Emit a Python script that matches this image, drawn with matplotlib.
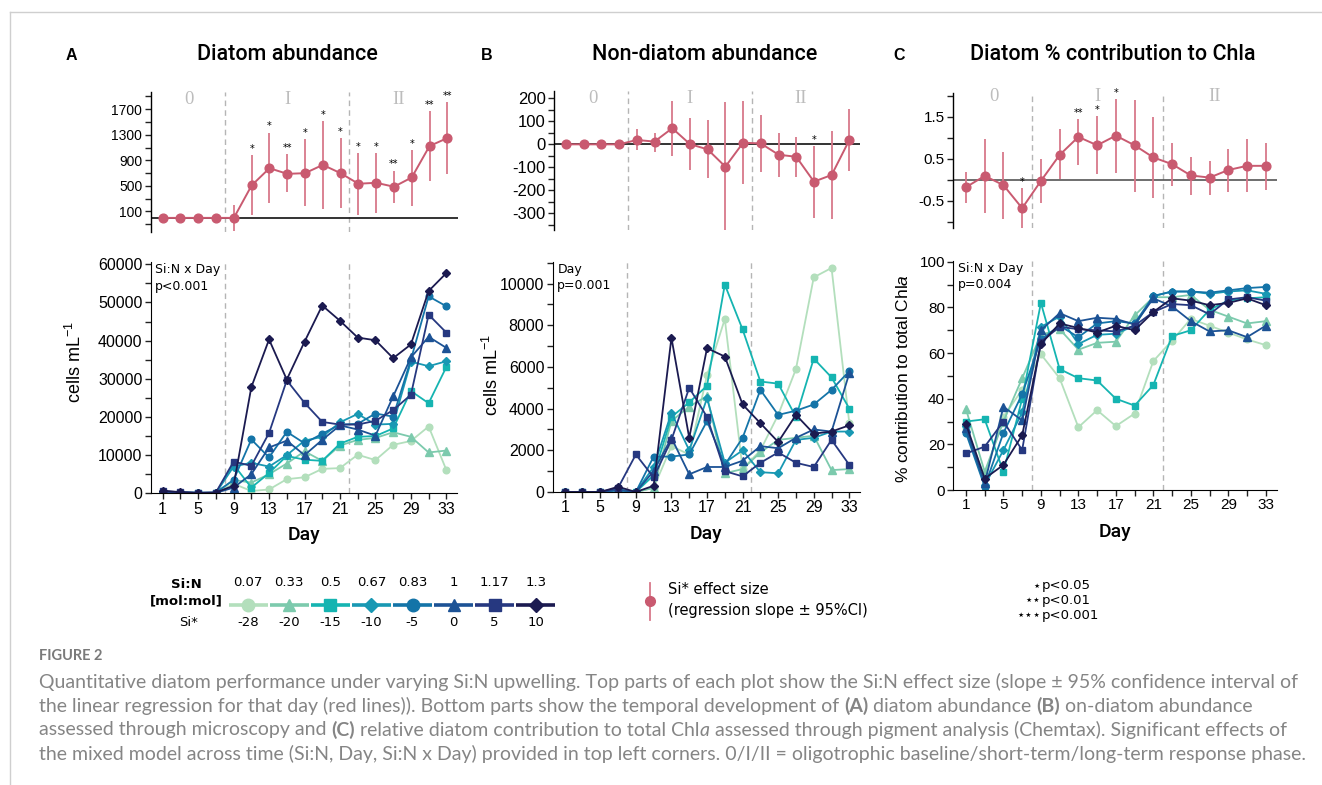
import matplotlib
matplotlib.use('Agg')
import matplotlib.pyplot as plt
import matplotlib.transforms as mtransforms
from matplotlib.ticker import FixedLocator, NullFormatter, MultipleLocator

plt.rcParams['font.family'] = ['Liberation Sans', 'DejaVu Sans']
plt.rcParams['mathtext.fontset'] = 'custom'
plt.rcParams['mathtext.rm'] = 'Liberation Sans'
plt.rcParams['mathtext.it'] = 'Liberation Sans:italic'
plt.rcParams['axes.unicode_minus'] = False

# ---------------- data ----------------
days = [1, 3, 5, 7, 9, 11, 13, 15, 17, 19, 21, 23, 25, 27, 29, 31, 33]
phase_breaks = [8, 22]
phase_labels = ['0', 'I', 'II']
phase_label_days = [4, 15, 27.5]

sin_labels = ['0.07', '0.33', '0.5', '0.67', '0.83', '1', '1.17', '1.3']
sistar_labels = ['-28', '-20', '-15', '-10', '-5', '0', '5', '10']

# effect sizes (slope) and 95% CI, panel A
effA = [0, 0, 0, 0, 0, 508, 777, 689, 699, 829, 699, 534, 549, 487, 632, 1124, 1248]
hiA = [0, 0, 0, 0, 207, 984, 1331, 995, 1228, 1513, 1248, 1010, 1015, 736, 1062, 1668, 1813]
loA = [0, 0, 0, 0, -207, 41, 233, 399, 192, 145, 150, 52, 83, 233, 192, 570, 679]
sigA = ['', '', '', '', '', '*', '*', '**', '*', '*', '*', '*', '*', '**', '*', '**', '**']

# panel B
effB = [0, 0, 0, 0, 19, 12, 70, 1, -22, -97, 7, 4, -45, -54, -162, -133, 19]
hiB = [0, 0, 0, 0, 65, 51, 188, 116, 106, 183, 190, 128, 51, 33, -7, 59, 152]
loB = [0, 0, 0, 0, -25, -32, -51, -112, -148, -372, -174, -119, -141, -141, -319, -325, -116]
sigB = ['', '', '', '', '', '', '', '', '', '', '', '', '', '', '*', '', '']

# panel C
effC = [-0.18, 0.09, -0.13, -0.68, -0.03, 0.59, 1.02, 0.82, 1.05, 0.82, 0.53, 0.37, 0.10, 0.05, 0.23, 0.33, 0.33]
hiC = [0.19, 0.96, 0.65, -0.21, 0.50, 1.20, 1.44, 1.52, 1.92, 1.91, 1.50, 0.87, 0.55, 0.44, 0.73, 0.96, 0.88]
loC = [-0.56, -0.80, -0.94, -1.16, -0.56, 0.01, 0.35, 0.13, 0.17, -0.29, -0.44, -0.14, -0.37, -0.37, -0.29, -0.29, -0.25]
sigC = ['', '', '', '*', '', '', '**', '*', '*', '', '', '', '', '', '', '', '']

# diatom abundance (cells/mL)
A_007 = [100, 100, 100, 100, 2500, 600, 1000, 3700, 4200, 6400, 6600, 10100, 8700, 12700, 13700, 17500, 6100]
A_033 = [200, 100, 100, 100, 3500, 2800, 5000, 7800, 11000, 8500, 12500, 14000, 14500, 16000, 14800, 10700, 11200]
A_05 = [200, 100, 100, 100, 7500, 1500, 5300, 9800, 8800, 8500, 13000, 14800, 15000, 17000, 26800, 23600, 33100]
A_067 = [300, 200, 100, 100, 7000, 8000, 7000, 10000, 13800, 14800, 18600, 20800, 18000, 18200, 34500, 33300, 34600]
A_083 = [300, 200, 200, 200, 3500, 14100, 9400, 16100, 13100, 15600, 18000, 18200, 20900, 20100, 35000, 51600, 49000]
A_1 = [300, 200, 100, 100, 1500, 5000, 12000, 13800, 10000, 14000, 17800, 16700, 15100, 25400, 35600, 41000, 38100]
A_117 = [500, 300, 100, 200, 8300, 7200, 15800, 29600, 23700, 18700, 18000, 18000, 19000, 21800, 25800, 46800, 42100]
A_13 = [700, 300, 100, 200, 2000, 27800, 40300, 29800, 39700, 49200, 45200, 40800, 40100, 35400, 39000, 53000, 57700]

# non-diatom abundance (cells/mL)
B_007 = [0, 0, 0, 100, 0, 200, 2200, 1800, 5600, 8300, 1100, 2000, 3700, 5900, 10300, 10750, 3300]
B_033 = [0, 0, 0, 100, 0, 200, 3400, 4100, 4600, 900, 1100, 1900, 2500, 2600, 2700, 1050, 1100]
B_05 = [0, 0, 0, 100, 0, 800, 3600, 4300, 5100, 9950, 7800, 5300, 5200, 3600, 6400, 5500, 4000]
B_067 = [0, 0, 0, 100, 0, 1200, 3800, 2000, 4500, 1400, 2000, 950, 900, 2500, 2600, 2900, 2900]
B_083 = [0, 0, 0, 100, 0, 1700, 1700, 1800, 3400, 1300, 2600, 4900, 3700, 3900, 4200, 4900, 5800]
B_1 = [0, 0, 0, 100, 0, 1000, 2600, 850, 1200, 1200, 1500, 2200, 2100, 2600, 3000, 2900, 5700]
B_117 = [0, 0, 0, 200, 1800, 700, 2500, 5000, 3600, 1000, 750, 1400, 1900, 1400, 1200, 2500, 1300]
B_13 = [0, 0, 0, 250, 0, 300, 7400, 2600, 6900, 6500, 4200, 3300, 2400, 3700, 2800, 2900, 3200]

# diatom % contribution to Chla
C_007 = [27, 6, 32, 44, 59.5, 49, 27.5, 35, 28, 33.5, 56.5, 65.5, 75, 72, 69, 66, 63.5]
C_033 = [35.5, 8, 30, 49, 68, 70.5, 61.5, 64.5, 65, 76.5, 84.5, 84.5, 85.5, 79, 76, 73, 74]
C_05 = [30, 31, 8, 40, 82, 53, 49, 48, 40, 37, 46, 67.5, 70, 79, 83, 84, 84.5]
C_067 = [28, 2, 17.5, 34, 71.5, 76, 64, 68, 68.5, 72, 85, 87, 87, 86, 87, 87.5, 86]
C_083 = [25, 1.5, 25, 42, 66, 72, 67, 73, 74, 73, 85, 87, 87, 86.5, 87.5, 88.5, 89]
C_1 = [27, 3, 36.5, 30.5, 70, 77.5, 74, 75.5, 75, 72.5, 84, 80.5, 74, 69.5, 70, 67, 72]
C_117 = [16, 19, 30, 17.5, 65, 71.5, 70.5, 70, 69.5, 72, 78, 81.5, 81, 77, 83.5, 84.5, 83]
C_13 = [29, 5, 11, 24, 64, 73, 71, 69, 72, 70, 78, 84, 83, 81, 82, 84, 81]

# ---------------- style ----------------
COLORS = ['#b3dfbc', '#7ccaad', '#15b4b1', '#1898b3', '#1474a8', '#1c5295', '#263880', '#1b1a50']
MARKERS = ['o', '^', 's', 'D', 'o', '^', 's', 'D']
MSIZES = [4.8, 5.2, 4.5, 4.2, 4.8, 5.2, 4.5, 4.2]
PINK = '#c95a70'
ERR = '#d8788a'
DASH = '#b5b5b5'
XL = (-0.35, 34.2)

W, H = 1322, 785
fig = plt.figure(figsize=(W / 100, H / 100), dpi=100)


def px_axes(l, t, r, b):
    return fig.add_axes([l / W, 1 - b / H, (r - l) / W, (b - t) / H])


def style_ticks(ax, fs):
    ax.tick_params(axis='both', which='both', direction='out', length=4, width=1,
                   labelsize=fs, pad=2, color='#222222')


def top_panel(ax, eff, lo, hi, sig, ylim, major, minor, fs, zcol, lab_y):
    ax.set_xlim(XL)
    ax.set_ylim(ylim)
    for s in ['top', 'right', 'bottom']:
        ax.spines[s].set_visible(False)
    ax.spines['left'].set_linewidth(1)
    ax.set_xticks([])
    ax.axhline(0, color=zcol, lw=1.2, zorder=1)
    for d in phase_breaks:
        ax.axvline(d, color=DASH, ls=(0, (4, 3)), lw=1, zorder=0)
    for d, l, h in zip(days, lo, hi):
        if h != l:
            ax.plot([d, d], [l, h], color=ERR, lw=1.3, zorder=2, solid_capstyle='butt')
    ax.plot(days, eff, '-o', color=PINK, ms=6.3, lw=1.4, zorder=3)
    for d, h, s in zip(days, hi, sig):
        if s:
            ax.annotate(s, (d, h), xytext=(0, 1), textcoords='offset points',
                        ha='center', va='bottom', fontsize=7, family='DejaVu Sans')
    trans = mtransforms.blended_transform_factory(ax.transData, ax.transAxes)
    for xd, lab in zip(phase_label_days, phase_labels):
        ax.text(xd, lab_y, lab, transform=trans, ha='center', va='center',
                family='Liberation Serif', fontsize=13.5, color='#bdbdbd', zorder=0)
    ax.yaxis.set_major_locator(FixedLocator(major))
    ax.yaxis.set_minor_locator(FixedLocator(minor))
    ax.yaxis.set_minor_formatter(NullFormatter())
    style_ticks(ax, fs)


def bottom_panel(ax, series, ylim, major_step, minor_step, fs, annot):
    ax.set_xlim(XL)
    ax.set_ylim(ylim)
    for s in ['top', 'right']:
        ax.spines[s].set_visible(False)
    for d in phase_breaks:
        ax.axvline(d, color=DASH, ls=(0, (4, 3)), lw=1, zorder=0)
    for vals, c, m, ms in zip(series, COLORS, MARKERS, MSIZES):
        ax.plot(days, vals, color=c, marker=m, ms=ms, lw=1.3)
    ax.xaxis.set_major_locator(FixedLocator(days[::2]))
    ax.xaxis.set_minor_locator(FixedLocator(days[1::2]))
    ax.yaxis.set_major_locator(MultipleLocator(major_step))
    ax.yaxis.set_minor_locator(MultipleLocator(minor_step))
    style_ticks(ax, fs)
    ax.text(0.015, 0.995, annot, transform=ax.transAxes, ha='left', va='top',
            family='DejaVu Sans', fontsize=9, linespacing=1.35)
    ax.set_xlabel('Day', family='Roboto', fontweight='medium', fontsize=14)
    ax.xaxis.label.set_va('center')
    ax.xaxis.set_label_coords(0.5, -0.182)


def set_ylab(ax, text, fs, xc, yc):
    ax.set_ylabel(text, fontsize=fs)
    ax.yaxis.label.set_va('center')
    ax.yaxis.set_label_coords(xc, yc)


# ---------------- panels ----------------
axA1 = px_axes(150.7, 92.3, 458, 231.7)
top_panel(axA1, effA, loA, hiA, sigA, (-216, 1964), [100, 500, 900, 1300, 1700],
          [-100, 300, 700, 1100, 1500, 1900], 10, '#111111', 0.945)
axB1 = px_axes(554, 90.7, 860, 230)
top_panel(axB1, effB, loB, hiB, sigB, (-372, 233), [-300, -200, -100, 0, 100, 200],
          [-350, -250, -150, -50, 50, 150], 12, '#111111', 0.945)
axC1 = px_axes(953.3, 93.3, 1277, 228.3)
top_panel(axC1, effC, loC, hiC, sigC, (-1.16, 2.06), [-0.5, 0.5, 1.5],
          [-1.0, 0.0, 1.0, 2.0], 11, '#555555', 0.975)

axA2 = px_axes(150.7, 262, 457, 493.3)
bottom_panel(axA2, [A_007, A_033, A_05, A_067, A_083, A_1, A_117, A_13], (0, 60600),
             10000, 5000, 11.5, 'Si:N x Day\np<0.001')
set_ylab(axA2, 'cells mL$^{-1}$', 13, -0.247, 0.568)

axB2 = px_axes(552.7, 261.7, 860, 492)
bottom_panel(axB2, [B_007, B_033, B_05, B_067, B_083, B_1, B_117, B_13], (0, 11050),
             2000, 1000, 11.5, 'Day\np=0.001')
set_ylab(axB2, 'cells mL$^{-1}$', 13, -0.198, 0.508)

axC2 = px_axes(953.3, 260.7, 1277, 490)
bottom_panel(axC2, [C_007, C_033, C_05, C_067, C_083, C_1, C_117, C_13], (0, 100.5),
             20, 10, 11, 'Si:N x Day\np=0.004')
set_ylab(axC2, '% contribution to total Chl$\\mathit{a}$', 12.5, -0.154, 0.485)


def ftext(x, y, s, **kw):
    return fig.text(x / W, 1 - y / H, s, **kw)


# titles and panel letters
TITLE_KW = dict(family='Roboto', fontweight='medium', fontsize=15.5, ha='center', va='center')
ftext(287.5, 55, 'Diatom abundance', **TITLE_KW)
ftext(705, 55, 'Non-diatom abundance', **TITLE_KW)
ftext(1113, 55, 'Diatom % contribution to Chla', **TITLE_KW)
for x, l in [(71, 'A'), (487, 'B'), (899, 'C')]:
    ftext(x, 55, l, fontsize=11.5, fontweight='bold', ha='center', va='center')

# ---------------- legend ----------------
ov = fig.add_axes([0, 0, 1, 1], zorder=-5)
ov.set_xlim(0, W)
ov.set_ylim(H, 0)
ov.axis('off')
ov.patch.set_alpha(0)

# frame lines of the page
ov.plot([9.5, W], [11.5, 11.5], color='#cfcfcf', lw=1)
ov.plot([9.5, 9.5], [11.5, H], color='#cfcfcf', lw=1)

leg_x0, leg_dx, leg_y = 248.3, 41.05, 605
for i, (c, m, a, b) in enumerate(zip(COLORS, MARKERS, sin_labels, sistar_labels)):
    cx = leg_x0 + i * leg_dx
    ov.plot([cx - 19.5, cx + 19.5], [leg_y, leg_y], color=c, lw=2.6, solid_capstyle='butt')
    ov.plot([cx], [leg_y], marker=m, color=c, ms=(9 if m != 'D' else 7.5), ls='none')
    ov.text(cx, 583, a, ha='center', va='center', family='DejaVu Sans', fontsize=9.5)
    ov.text(cx, 623, b, ha='center', va='center', family='DejaVu Sans', fontsize=9.5)
ov.text(186, 584, 'Si:N', ha='center', va='center', family='DejaVu Sans', fontsize=9.5, fontweight='bold')
ov.text(186, 601, '[mol:mol]', ha='center', va='center', family='DejaVu Sans', fontsize=9.5, fontweight='bold')
ov.text(189, 623, 'Si*', ha='center', va='center', family='DejaVu Sans', fontsize=9.5)

ov.plot([650, 650], [583, 620], color=ERR, lw=1.3)
ov.plot([650], [601], marker='o', color=PINK, ms=7)
ov.text(668, 590, 'Si* effect size', ha='left', va='center', family='DejaVu Sans', fontsize=10.5)
ov.text(668, 610, '(regression slope ± 95%CI)', ha='left', va='center', family='DejaVu Sans', fontsize=10.5)

for ys, st, p in [(586, '⋆', 'p<0.05'), (600.5, '⋆⋆', 'p<0.01'), (615, '⋆⋆⋆', 'p<0.001')]:
    ov.text(1041, ys, st, ha='right', va='center', family='DejaVu Sans', fontsize=9.5)
    ov.text(1042, ys, p, ha='left', va='center', family='DejaVu Sans', fontsize=9.5)

# ---------------- caption ----------------
CAP_FONT = 'Lato'
CAP_COL = '#858585'
renderer = fig.canvas.get_renderer()


def text_w(s, fs, **kw):
    t = fig.text(0, 0, s, fontsize=fs, family=CAP_FONT, **kw)
    w = t.get_window_extent(renderer).width
    t.remove()
    return w


def rich_line(x, y, segs, fs):
    sp = text_w('a a', fs) - text_w('aa', fs)
    for s, kw in segs:
        core = s.strip(' ')
        lead = len(s) - len(s.lstrip(' '))
        trail = len(s) - len(s.rstrip(' '))
        x += lead * sp
        if core:
            t = ftext(x, y, core, fontsize=fs, family=CAP_FONT, color=CAP_COL, ha='left', va='center', **kw)
            x += t.get_window_extent(renderer).width
        x += trail * sp


B = dict(fontweight='bold')
N = dict()
I = dict(fontstyle='italic')
cap_lines = [
    [('Quantitative diatom performance under varying Si:N upwelling. Top parts of each plot show the Si:N effect size (slope ± 95% confidence interval of', N)],
    [('the linear regression for that day (red lines)). Bottom parts show the temporal development of ', N), ('(A)', B),
     (' diatom abundance ', N), ('(B)', B), (' on-diatom abundance', N)],
    [('assessed through microscopy and ', N), ('(C)', B), (' relative diatom contribution to total Chl', N), ('a', I),
     (' assessed through pigment analysis (Chemtax). Significant effects of', N)],
    [('the mixed model across time (Si:N, Day, Si:N x Day) provided in top left corners. 0/I/II = oligotrophic baseline/short-term/long-term response phase.', N)],
]
w_ref = text_w(cap_lines[3][0][0], 12)
cap_fs = 12 * 1262 / w_ref
ftext(39, 656, 'FIGURE 2', fontsize=10.5, family=CAP_FONT, fontweight='bold', color='#7a7a7a', ha='left', va='center')
for line, y in zip(cap_lines, [682, 706, 730, 754]):
    rich_line(39, y, line, cap_fs)

fig.savefig('out.png', dpi=100)
